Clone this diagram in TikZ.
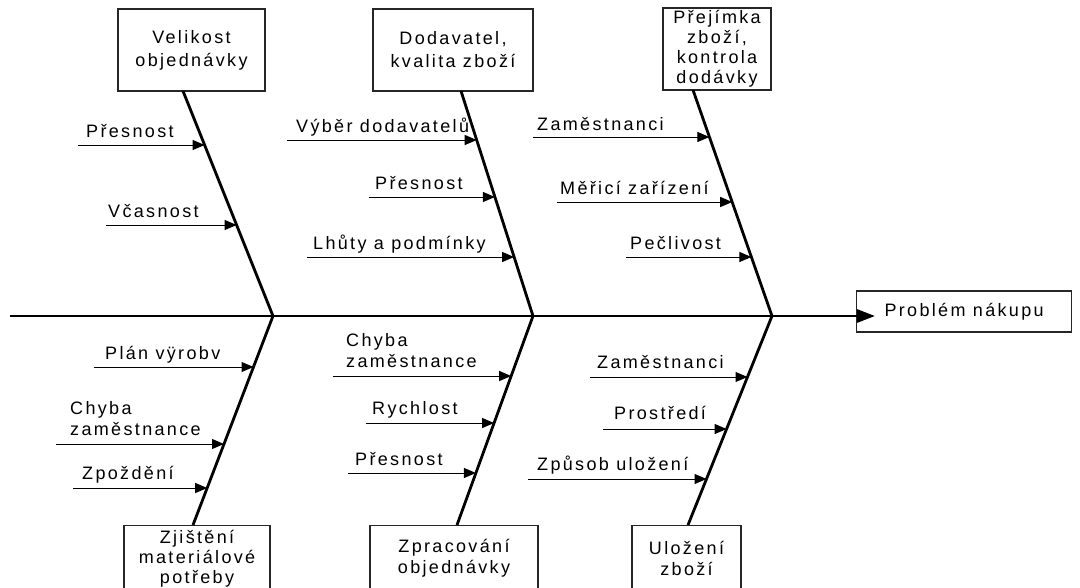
\documentclass[tikz,border=0pt]{standalone}
\usepackage{fontspec}
\setmainfont{Liberation Sans}[LetterSpace=13]
\usetikzlibrary{arrows.meta,calc}

\begin{document}
\begin{tikzpicture}[x=1pt,y=-1pt,
  txt/.style={font=\fontsize{18}{21}\selectfont, text=black},
  lbl/.style={txt, inner sep=0pt, anchor=base west},
  lbltwo/.style={txt, inner sep=0pt, anchor=south west, align=left},
  cause/.style={txt, draw=black!85, line width=1.2pt, align=center, inner sep=2pt},
  bone/.style={line width=2.8pt, draw=black},
  sub/.style={line width=1pt, draw=black, -{Triangle[length=12pt,width=10pt]}},
  spinestyle/.style={line width=2.8pt, draw=black, -{Triangle[length=18pt,width=13pt]}},
]
\clip (0,0) rectangle (1080,587);
\fill[white] (0,0) rectangle (1080,587);

% ---- cause boxes ----
\node[cause, minimum width=147pt, minimum height=82pt, font=\fontsize{18}{23}\selectfont] (tl) at (191.5,50) {Velikost\\objednávky};
\node[cause, minimum width=160pt, minimum height=82pt, font=\fontsize{18}{23}\selectfont] (tm) at (453,50) {Dodavatel,\\kvalita zboží};
\node[cause, minimum width=108pt, minimum height=82pt, inner sep=0pt, font=\fontsize{18}{20}\selectfont] (tr) at (717,49) {Přejímka\\zboží,\\kontrola\\dodávky};
\node[cause, anchor=north, minimum width=146pt, minimum height=66pt, inner sep=0pt, font=\fontsize{18}{20}\selectfont] (bl) at (197,525) {Zjištění\\materiálové\\potřeby};
\node[cause, anchor=north, minimum width=168pt, minimum height=66pt] (bm) at (454,525) {Zpracování\\objednávky};
\node[cause, anchor=north, minimum width=109pt, minimum height=66pt] (br) at (686.5,525) {Uložení\\zboží};

% ---- effect box ----
\node[cause, anchor=west, minimum width=215pt, minimum height=41pt] (prob) at (856,311.5) {Problém\ nákupu};

% ---- spine ----
\coordinate (s0) at (10,316);
\coordinate (tip) at (875,316);
\draw[spinestyle] (s0) -- (tip);

% ---- bones ----
\coordinate (b1) at (183,91);
\coordinate (b2) at (461,91);
\coordinate (b3) at (693,90);
\coordinate (J1) at (273,316);
\coordinate (J2) at (533,316);
\coordinate (J3) at (772,316);
\coordinate (c1) at (193,525);
\coordinate (c2) at (457,525);
\coordinate (c3) at (688,525);
\draw[bone] (b1) -- (J1) -- (c1);
\draw[bone] (b2) -- (J2) -- (c2);
\draw[bone] (b3) -- (J3) -- (c3);

% ---- sub-causes: upper left ----
\coordinate (t11) at (78,145);  \coordinate (h11) at (204.6,145);
\coordinate (t12) at (106,225); \coordinate (h12) at (236.6,225);
\draw[sub] (t11) -- (h11);
\draw[sub] (t12) -- (h12);
\node[lbl] (l11) at (86,137) {Přesnost};
\node[lbl] (l12) at (108,217) {Včasnost};

% ---- sub-causes: upper middle ----
\coordinate (t21) at (287,140); \coordinate (h21) at (476.7,140);
\coordinate (t22) at (369,197); \coordinate (h22) at (494.9,197);
\coordinate (t23) at (307,257); \coordinate (h23) at (514.1,257);
\draw[sub] (t21) -- (h21);
\draw[sub] (t22) -- (h22);
\draw[sub] (t23) -- (h23);
\node[lbl] (l21) at (296,132) {Výběr dodavatelů};
\node[lbl] (l22) at (375,189) {Přesnost};
\node[lbl] (l23) at (313,249) {Lhůty a podmínky};

% ---- sub-causes: upper right ----
\coordinate (t31) at (533,137); \coordinate (h31) at (709.4,137);
\coordinate (t32) at (557,202); \coordinate (h32) at (732.2,202);
\coordinate (t33) at (626,257); \coordinate (h33) at (751.4,257);
\draw[sub] (t31) -- (h31);
\draw[sub] (t32) -- (h32);
\draw[sub] (t33) -- (h33);
\node[lbl] (l31) at (537,130) {Zaměstnanci};
\node[lbl] (l32) at (560,194) {Měřicí zařízení};
\node[lbl] (l33) at (630,249) {Pečlivost};

% ---- sub-causes: lower left ----
\coordinate (t41) at (94,367);  \coordinate (h41) at (253.5,367);
\coordinate (t42) at (56,444);  \coordinate (h42) at (224,444);
\coordinate (t43) at (73,488);  \coordinate (h43) at (207.2,488);
\draw[sub] (t41) -- (h41);
\draw[sub] (t42) -- (h42);
\draw[sub] (t43) -- (h43);
\node[lbl] (l41) at (105,359) {Plán vÿrobv};
\node[lbltwo] (l42) at (70,436) {Chyba\\zaměstnance};
\node[lbl] (l43) at (82,479) {Zpoždění};

% ---- sub-causes: lower middle ----
\coordinate (t51) at (333,376); \coordinate (h51) at (511.2,376);
\coordinate (t52) at (366,423); \coordinate (h52) at (494.1,423);
\coordinate (t53) at (348,473); \coordinate (h53) at (475.9,473);
\draw[sub] (t51) -- (h51);
\draw[sub] (t52) -- (h52);
\draw[sub] (t53) -- (h53);
\node[lbltwo] (l51) at (346,368) {Chyba\\zaměstnance};
\node[lbl] (l52) at (372,414) {Rychlost};
\node[lbl] (l53) at (355,465) {Přesnost};

% ---- sub-causes: lower right ----
\coordinate (t61) at (590,377); \coordinate (h61) at (747.5,377);
\coordinate (t62) at (603,429); \coordinate (h62) at (726.6,429);
\coordinate (t63) at (528,479); \coordinate (h63) at (706.5,479);
\draw[sub] (t61) -- (h61);
\draw[sub] (t62) -- (h62);
\draw[sub] (t63) -- (h63);
\node[lbl] (l61) at (597,368) {Zaměstnanci};
\node[lbl] (l62) at (614,419) {Prostředí};
\node[lbl] (l63) at (537,470) {Způsob uložení};
\end{tikzpicture}
\end{document}
